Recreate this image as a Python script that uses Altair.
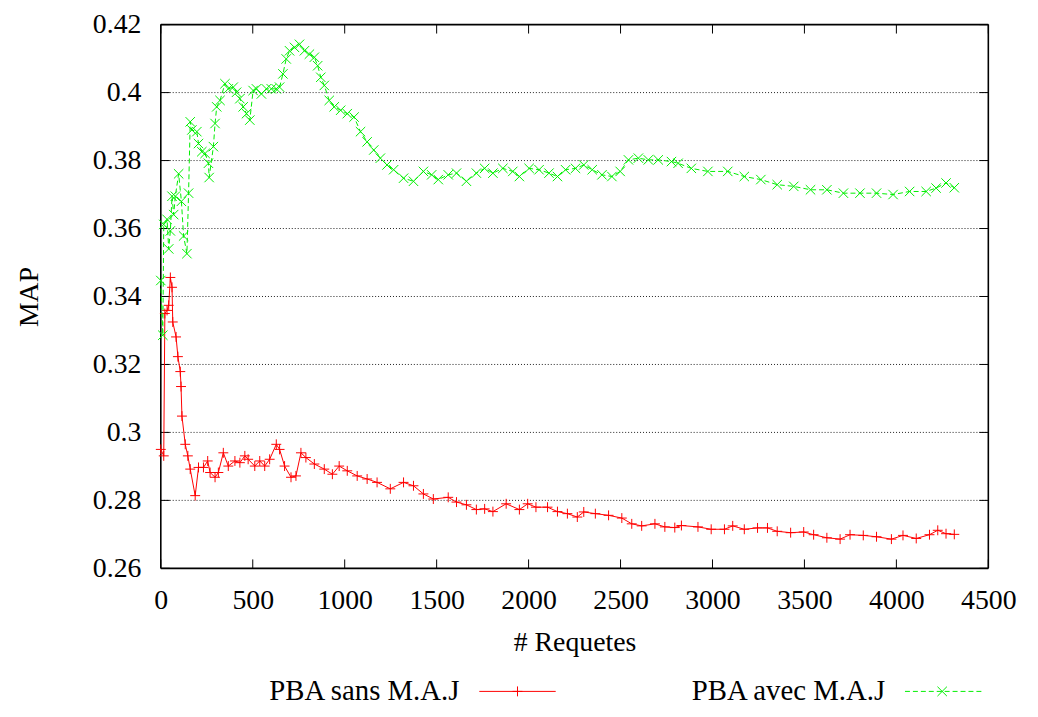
import altair as alt
import pandas as pd

series_names = ["PBA sans M.A.J", "PBA avec M.A.J"]

red_x = [0, 16, 22, 34, 43, 52, 61, 65, 83, 93, 106, 110, 115, 133, 147, 160, 187, 205, 232, 255,
         268, 295, 313, 340, 367, 403, 430, 457, 475, 511, 538, 565, 592, 628, 646, 673, 708, 735, 762, 789,
         835, 889, 933, 970, 1014, 1068, 1122, 1176, 1248, 1320, 1374, 1428, 1482, 1563, 1608, 1662, 1716, 1761, 1806, 1878,
         1950, 1995, 2040, 2103, 2157, 2211, 2265, 2300, 2363, 2435, 2507, 2561, 2615, 2687, 2741, 2795, 2831, 2921, 2993, 3065,
         3110, 3173, 3245, 3299, 3352, 3425, 3496, 3550, 3622, 3694, 3748, 3820, 3892, 3973, 4036, 4108, 4180, 4225, 4270, 4315]
red_y = [0.2950, 0.2931, 0.3350, 0.3359, 0.3374, 0.3456, 0.3427, 0.3325, 0.3281, 0.3223, 0.3179, 0.3135, 0.3048, 0.2965, 0.2931, 0.2892, 0.2814, 0.2897, 0.2897, 0.2916,
         0.2882, 0.2868, 0.2882, 0.2940, 0.2901, 0.2916, 0.2911, 0.2931, 0.2921, 0.2901, 0.2916, 0.2901, 0.2921, 0.2965, 0.2950, 0.2901, 0.2868, 0.2872, 0.2940, 0.2926,
         0.2907, 0.2892, 0.2877, 0.2901, 0.2887, 0.2872, 0.2863, 0.2853, 0.2834, 0.2853, 0.2843, 0.2819, 0.2804, 0.2809, 0.2795, 0.2787, 0.2773, 0.2775, 0.2767, 0.2790,
         0.2773, 0.2790, 0.2780, 0.2780, 0.2767, 0.2761, 0.2751, 0.2766, 0.2761, 0.2756, 0.2748, 0.2731, 0.2725, 0.2731, 0.2722, 0.2720, 0.2726, 0.2722, 0.2715, 0.2715,
         0.2725, 0.2715, 0.2719, 0.2719, 0.2709, 0.2705, 0.2707, 0.2699, 0.2690, 0.2686, 0.2699, 0.2697, 0.2693, 0.2686, 0.2697, 0.2688, 0.2699, 0.2712, 0.2702, 0.2700]

green_x = [0, 11, 16, 34, 43, 52, 61, 70, 79, 97, 112, 124, 142, 151, 160, 169, 196, 205, 223, 241,
           259, 263, 286, 295, 304, 322, 349, 367, 394, 412, 430, 448, 466, 484, 502, 520, 547, 574, 601, 628,
           646, 664, 682, 700, 727, 754, 781, 808, 835, 853, 870, 889, 916, 943, 978, 1014, 1051, 1086, 1122, 1158,
           1194, 1230, 1266, 1320, 1374, 1428, 1473, 1509, 1563, 1608, 1662, 1716, 1761, 1806, 1860, 1914, 1950, 2003, 2057, 2111,
           2157, 2201, 2255, 2300, 2346, 2399, 2453, 2498, 2543, 2597, 2651, 2705, 2777, 2813, 2885, 2975, 3083, 3173, 3263, 3352,
           3442, 3533, 3622, 3712, 3802, 3892, 3982, 4072, 4162, 4216, 4270, 4315]
green_y = [0.3447, 0.3286, 0.3612, 0.3627, 0.3540, 0.3593, 0.3695, 0.3641, 0.3695, 0.3761, 0.3680, 0.3578, 0.3526, 0.3704, 0.3914, 0.3890, 0.3885, 0.3850, 0.3826, 0.3821,
           0.3792, 0.3750, 0.3841, 0.3909, 0.3958, 0.3977, 0.4026, 0.4011, 0.4016, 0.4001, 0.3982, 0.3958, 0.3938, 0.3919, 0.4006, 0.4011, 0.3996, 0.4011, 0.4011, 0.4011,
           0.4016, 0.4055, 0.4099, 0.4123, 0.4133, 0.4142, 0.4123, 0.4113, 0.4104, 0.4079, 0.4045, 0.4021, 0.3977, 0.3958, 0.3948, 0.3938, 0.3928, 0.3885, 0.3855, 0.3831,
           0.3807, 0.3787, 0.3773, 0.3748, 0.3739, 0.3768, 0.3758, 0.3744, 0.3758, 0.3763, 0.3739, 0.3763, 0.3777, 0.3763, 0.3777, 0.3768, 0.3753, 0.3777, 0.3773, 0.3763,
           0.3753, 0.3773, 0.3777, 0.3787, 0.3773, 0.3758, 0.3753, 0.3768, 0.3802, 0.3807, 0.3802, 0.3802, 0.3797, 0.3792, 0.3777, 0.3768, 0.3768, 0.3753, 0.3744, 0.3729,
           0.3724, 0.3714, 0.3714, 0.3704, 0.3704, 0.3704, 0.3700, 0.3709, 0.3709, 0.3719, 0.3734, 0.3720]

x_ticks = [0, 500, 1000, 1500, 2000, 2500, 3000, 3500, 4000, 4500]
y_ticks = [0.26, 0.28, 0.30, 0.32, 0.34, 0.36, 0.38, 0.40, 0.42]
y_grid = [0.28, 0.30, 0.32, 0.34, 0.36, 0.38, 0.40]

W, H = 834, 548
FONT = "Liberation Serif"
RED = "#ff0000"
GREEN = "#00ee00"
PLUS = "M-1,0L1,0M0,-1L0,1"
CROSS = "M-1,-1L1,1M1,-1L-1,1"

red_df = pd.DataFrame({"q": red_x, "map": red_y})
green_df = pd.DataFrame({"q": green_x, "map": green_y})

xs = alt.Scale(domain=[0, 4500], nice=False, zero=False)
ys = alt.Scale(domain=[0.26, 0.42], nice=False, zero=False)

x_axis = alt.Axis(values=x_ticks, title="# Requetes", grid=False, ticks=False, tickSize=0, domain=False,
                  format="d", labelFont=FONT, labelFontSize=28, labelColor="black", labelPadding=40,
                  labelBaseline="alphabetic", labelFlush=False,
                  titleFont=FONT, titleFontSize=28, titleFontWeight="normal", titleColor="black",
                  titleX=W / 2, titleY=83, titleBaseline="alphabetic", titleAlign="center")
y_axis = alt.Axis(values=y_ticks, title="MAP", grid=False, ticks=False, tickSize=0, domain=False,
                  format="~g", labelFont=FONT, labelFontSize=28, labelColor="black", labelPadding=20,
                  labelFlush=False, labelBaseline="middle",
                  titleFont=FONT, titleFontSize=28, titleFontWeight="normal", titleColor="black",
                  titleX=-132, titleY=H / 2, titleAngle=-90, titleBaseline="middle", titleAlign="center")

xt_df = pd.DataFrame({"t": x_ticks})
yt_df = pd.DataFrame({"t": y_ticks})
yg_df = pd.DataFrame({"t": y_grid})

grid = alt.Chart(yg_df).mark_rule(color="#222222", strokeDash=[1, 2], strokeWidth=1).encode(
    y=alt.Y("t:Q", scale=ys, axis=y_axis), x=alt.value(0), x2=alt.value(W))

xt_bottom = alt.Chart(xt_df).mark_rule(color="black", strokeWidth=1).encode(
    x=alt.X("t:Q", scale=xs, axis=x_axis), y=alt.value(H), y2=alt.value(H - 9))
xt_top = alt.Chart(xt_df).mark_rule(color="black", strokeWidth=1).encode(
    x=alt.X("t:Q", scale=xs), y=alt.value(0), y2=alt.value(9))
yt_left = alt.Chart(yt_df).mark_rule(color="black", strokeWidth=1).encode(
    y=alt.Y("t:Q", scale=ys), x=alt.value(0), x2=alt.value(9))
yt_right = alt.Chart(yt_df).mark_rule(color="black", strokeWidth=1).encode(
    y=alt.Y("t:Q", scale=ys), x=alt.value(W), x2=alt.value(W - 9))

# plot frame
one = alt.Data(values=[{"k": 0}])
frame_l = alt.Chart(one).mark_rule(color="black", strokeWidth=1.6).encode(
    x=alt.value(0), y=alt.value(0), y2=alt.value(H))
frame_r = alt.Chart(one).mark_rule(color="black", strokeWidth=1.6).encode(
    x=alt.value(W), y=alt.value(0), y2=alt.value(H))
frame_t = alt.Chart(one).mark_rule(color="black", strokeWidth=1.6).encode(
    x=alt.value(0), x2=alt.value(W), y=alt.value(0))
frame_b = alt.Chart(one).mark_rule(color="black", strokeWidth=1.6).encode(
    x=alt.value(0), x2=alt.value(W), y=alt.value(H))

red_line = alt.Chart(red_df).mark_line(color=RED, strokeWidth=1, clip=False).encode(
    x=alt.X("q:Q", scale=xs), y=alt.Y("map:Q", scale=ys), order="q:Q")
red_pts = alt.Chart(red_df).mark_point(shape=PLUS, size=100, filled=False, color=RED, strokeWidth=1, opacity=1).encode(
    x=alt.X("q:Q", scale=xs), y=alt.Y("map:Q", scale=ys))
green_line = alt.Chart(green_df).mark_line(color=GREEN, strokeWidth=1, strokeDash=[5, 3], clip=False).encode(
    x=alt.X("q:Q", scale=xs), y=alt.Y("map:Q", scale=ys), order="q:Q")
green_pts = alt.Chart(green_df).mark_point(shape=CROSS, size=90, filled=False, color=GREEN, strokeWidth=1, opacity=1).encode(
    x=alt.X("q:Q", scale=xs), y=alt.Y("map:Q", scale=ys))

# legend (below the plot, gnuplot style: label then sample)
LY = 672
leg_red_txt = alt.Chart(alt.Data(values=[{"label": series_names[0]}])).mark_text(
    font=FONT, fontSize=29, align="right", baseline="middle", color="black").encode(
    text="label:N", x=alt.value(301), y=alt.value(LY))
leg_red_line = alt.Chart(alt.Data(values=[{"label": series_names[0]}])).mark_rule(color=RED, strokeWidth=1).encode(
    x=alt.value(321), x2=alt.value(398), y=alt.value(LY))
leg_red_pt = alt.Chart(alt.Data(values=[{"label": series_names[0]}])).mark_point(
    shape=PLUS, size=100, filled=False, color=RED, strokeWidth=1, opacity=1).encode(
    x=alt.value(359.5), y=alt.value(LY))
leg_green_txt = alt.Chart(alt.Data(values=[{"label": series_names[1]}])).mark_text(
    font=FONT, fontSize=29, align="right", baseline="middle", color="black").encode(
    text="label:N", x=alt.value(730), y=alt.value(LY))
leg_green_line = alt.Chart(alt.Data(values=[{"label": series_names[1]}])).mark_rule(
    color=GREEN, strokeWidth=1, strokeDash=[5, 3]).encode(
    x=alt.value(750), x2=alt.value(830), y=alt.value(LY))
leg_green_pt = alt.Chart(alt.Data(values=[{"label": series_names[1]}])).mark_point(
    shape=CROSS, size=90, filled=False, color=GREEN, strokeWidth=1, opacity=1).encode(
    x=alt.value(787.5), y=alt.value(LY))

chart = alt.layer(
    grid, xt_bottom, xt_top, yt_left, yt_right,
    frame_l, frame_r, frame_t, frame_b,
    red_line, red_pts, green_line, green_pts,
    leg_red_txt, leg_red_line, leg_red_pt, leg_green_txt, leg_green_line, leg_green_pt,
).properties(
    width=W, height=H,
    background="white",
    autosize=alt.AutoSizeParams(type="none"),
    padding={"left": 154, "top": 14, "right": 42, "bottom": 139},
).configure_view(
    stroke=None
)

chart.save("out.html", embed_options={"renderer": "svg", "actions": False})
